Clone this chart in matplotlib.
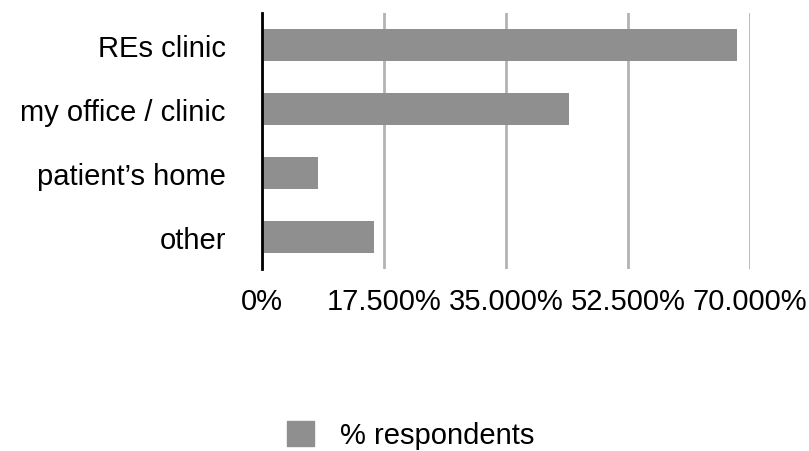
import matplotlib.pyplot as plt
from matplotlib.ticker import FuncFormatter
from matplotlib.patches import Patch

plt.rcParams["font.family"] = ["Liberation Sans", "DejaVu Sans"]

categories = ["REs clinic", "my office / clinic", "patient\u2019s home", "other"]
values = [68.1, 44.0, 8.0, 16.1]
x_ticks = [0, 17.5, 35, 52.5, 70]
series_name = "% respondents"

bar_color = "#8f8f8f"
fs = 21

fig = plt.figure(figsize=(8.09, 4.52), dpi=100)
ax = fig.add_axes([262 / 809, 1 - 270 / 452, 488 / 809, 256 / 452])

y = list(range(len(categories)))
ax.barh(y, values, height=0.5, color=bar_color, zorder=3)
ax.set_ylim(len(categories) - 0.5, -0.5)
ax.set_xlim(0, 70)
ax.set_yticks(y)
ax.set_yticklabels(categories, fontsize=fs)
ax.set_xticks(x_ticks)


def fmt(v, pos):
    if v == 0:
        return "0%"
    return f"{v:.3f}%"


ax.xaxis.set_major_formatter(FuncFormatter(fmt))
ax.tick_params(axis="x", labelsize=fs, length=0, pad=13)
ax.tick_params(axis="y", length=0, pad=26)

ax.grid(axis="x", color="#b3b3b3", linewidth=2, zorder=0)
for s in ["top", "right", "bottom"]:
    ax.spines[s].set_visible(False)
ax.spines["left"].set_color("black")
ax.spines["left"].set_linewidth(2)
ax.spines["left"].set_zorder(4)

handle = Patch(color=bar_color, label=series_name)
fig.legend(handles=[handle], loc="center", bbox_to_anchor=(411 / 809, 1 - 436 / 452),
           frameon=False, fontsize=fs, handlelength=0.93, handleheight=0.93,
           handletextpad=0.9)

fig.savefig("out.png", dpi=100)
